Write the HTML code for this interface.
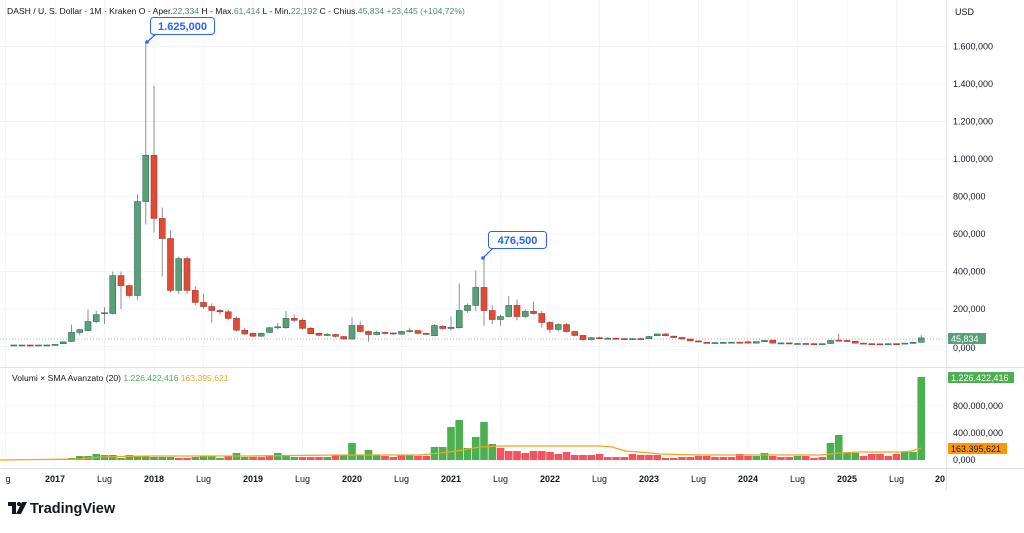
<!DOCTYPE html>
<html><head><meta charset="utf-8"><style>
html,body{margin:0;padding:0;background:#fff;}
body{width:1024px;height:528px;overflow:hidden;font-family:"Liberation Sans",sans-serif;}
svg text{font-family:"Liberation Sans",sans-serif;}
</style></head><body>
<svg id="c" width="1024" height="528" xmlns="http://www.w3.org/2000/svg">
<rect width="1024" height="528" fill="#fff"/>
<g id="grid"></g>
<line x1="0" y1="367.5" x2="1024" y2="367.5" stroke="#e0e3eb"/>
<line x1="0" y1="468.5" x2="1024" y2="468.5" stroke="#e0e3eb"/>
<line x1="946.5" y1="0" x2="946.5" y2="490" stroke="#e0e3eb"/>
<line x1="0" y1="339" x2="946" y2="339" stroke="#9aa0ab" stroke-dasharray="1,2" stroke-width="0.8"/>
<g id="cand"></g>
<g id="vol"></g>
<polyline id="sma" fill="none" stroke="#f7a21b" stroke-width="1.3"/>
<g fill="#131722">
<text x="7" y="14" font-size="8.6">DASH / U. S. Dollar · 1M · Kraken  O - Aper.<tspan fill="#4a8f6a">22,334</tspan>  H - Max.<tspan fill="#4a8f6a">61,414</tspan>  L - Min.<tspan fill="#4a8f6a">22,192</tspan>  C - Chius.<tspan fill="#4a8f6a">45,834</tspan>  <tspan fill="#4a8f6a">+23,445 (+104,72%)</tspan></text>
<text x="12" y="381" font-size="8.6">Volumi × SMA Avanzato (20) <tspan fill="#4caf50">1.226.422,416</tspan> <tspan fill="#f7a21b">163.395,621</tspan></text>
<text x="955" y="15" font-size="9">USD</text>
</g>
<g id="axis" font-size="9" fill="#131722"></g>
<g id="time" font-size="9" fill="#131722"></g>
<line x1="147" y1="42" x2="156" y2="34" stroke="#2962ff" stroke-width="1.2"/>
<circle cx="147" cy="42" r="1.8" fill="#2962ff"/>
<rect x="150.5" y="17.5" width="64" height="17" rx="3" fill="#fff" stroke="#2962ff"/>
<text x="182.5" y="30" font-size="11" font-weight="bold" fill="#2962ff" text-anchor="middle">1.625,000</text>
<line x1="483" y1="258" x2="493" y2="248" stroke="#2962ff" stroke-width="1.2"/>
<circle cx="483" cy="258" r="1.8" fill="#2962ff"/>
<rect x="488.5" y="231.5" width="58" height="17" rx="3" fill="#fff" stroke="#2962ff"/>
<text x="517.5" y="244" font-size="11" font-weight="bold" fill="#2962ff" text-anchor="middle">476,500</text>
<rect x="948" y="333" width="38" height="11" fill="#5a9f7c"/>
<text x="951" y="342" font-size="9" fill="#fff">45,834</text>
<text x="953" y="351" font-size="9" fill="#131722">0,000</text>
<rect x="948" y="372" width="66" height="11" fill="#4caf50"/>
<text x="951" y="381" font-size="9" fill="#fff">1.226.422,416</text>
<rect x="948" y="443" width="59" height="11" fill="#ff9800"/>
<text x="951" y="452" font-size="9" fill="#131722">163.395,621</text>
<text x="953" y="409" font-size="9" fill="#131722">800.000,000</text>
<text x="953" y="436" font-size="9" fill="#131722">400.000,000</text>
<text x="953" y="463" font-size="9" fill="#131722">0,000</text>
<g transform="translate(8,500)">
<path d="M0 2 H8 V14 H4 V6 H0 Z" fill="#131722"/>
<circle cx="11" cy="4" r="2" fill="#131722"/>
<path d="M14 2 H19 L13 14 H8 Z" fill="#131722"/>
<text x="22" y="13" font-size="14.5" font-weight="bold" fill="#131722">TradingView</text>
</g>
</svg>
<script>
var NS="http://www.w3.org/2000/svg";
function el(p,t,a,txt){var e=document.createElementNS(NS,t);for(var k in a)e.setAttribute(k,a[k]);if(txt!==undefined)e.textContent=txt;p.appendChild(e);return e;}
var grid=document.getElementById('grid');
for(var m=-6;m<=108;m+=6){var x=55+8.25*m;if(x>0&&x<946)el(grid,'line',{x1:x,y1:0,x2:x,y2:468,stroke:'#f2f4f8'});}
for(var v=0;v<=1600;v+=200){var y=346.5-v*0.1875;el(grid,'line',{x1:0,y1:y,x2:946,y2:y,stroke:'#f2f4f8'});}
el(grid,'line',{x1:0,y1:406,x2:946,y2:406,stroke:'#f2f4f8'});
el(grid,'line',{x1:0,y1:433,x2:946,y2:433,stroke:'#f2f4f8'});
var ax=document.getElementById('axis');
var pl=['0,000','200,000','400,000','600,000','800,000','1.000,000','1.200,000','1.400,000','1.600,000'];
for(var i=1;i<pl.length;i++){el(ax,'text',{x:953,y:346.5-i*37.5+3},pl[i]);}
var tm=document.getElementById('time');
var tl=[[8,'g',0]];var yrs=['2017','2018','2019','2020','2021','2022','2023','2024','2025'];
for(var i=0;i<9;i++){var x=55+99*i;tl.push([x,yrs[i],1]);tl.push([x+49.5,'Lug',0]);}
tl.push([940,'20',1]);
tl.forEach(function(t){el(tm,'text',{x:t[0],y:482,'text-anchor':'middle','font-weight':t[2]?'bold':'normal'},t[1]);});
var D=[[8,9,7,8],[8,9,7,8],[8,9,7,7],[7,8,7,8],[8,9,7,8],
[8,12,8,11],[15,27,14,25],[27,117,25,75],[75,95,60,90],[85,197,80,133],[133,190,125,170],[175,210,120,180],[176,400,170,378],[378,400,200,325],[325,330,260,272],[272,810,250,773],[773,1625,650,1020],
[1020,1390,608,683],[683,741,373,576],[576,620,290,299],[299,480,280,469],[469,480,280,299],[299,320,220,235],[235,280,200,213],[213,230,128,192],[192,200,170,185],[185,195,140,150],[150,160,80,87],[87,100,60,67],
[70,75,50,55],[55,75,52,70],[75,105,70,100],[100,125,90,105],[100,190,95,150],[150,170,130,140],[140,150,90,97],[97,105,65,68],[70,75,55,60],[62,72,55,64],[64,68,48,54],[53,56,37,40],
[40,155,37,112],[112,135,75,80],[80,85,26,64],[64,85,60,75],[75,80,65,72],[72,75,62,68],[66,85,62,80],[80,100,75,85],[85,88,65,70],[70,75,62,66],[58,120,55,112],[107,115,90,96],
[96,160,85,102],[100,336,96,192],[192,230,180,219],[219,405,190,315],[315,476.5,110,192],[192,220,120,144],[144,170,110,160],[160,270,155,219],[219,250,140,160],[160,200,150,187],[187,240,170,176],[176,190,100,128],
[128,135,70,91],[91,125,80,117],[117,125,75,80],[80,85,55,59],[59,62,30,37],[37,50,33,47],[47,52,40,44],[44,50,40,44],[44,48,38,40],[42,46,38,41],[41,45,37,42],[42,46,39,41],
[42,56,40,53],[58,70,56,67],[67,70,55,58],[55,58,45,48],[48,52,38,40],[40,42,28,30],[30,32,22,24],[22,24,18,20],[20,24,18,21],[21,24,19,22],[22,25,20,23],[23,26,21,22],
[25,30,17,18],[18,27,16,26],[26,34,25,32],[34,36,16,18],[18,22,15,19],[19,22,14,15],[15,18,13,16],[16,18,14,15],[15,17,12,13],[13,16,12,15],[16,35,14,32],[34,69,30,32],
[32,34,24,28],[28,30,17,18],[18,20,14,15],[15,17,12,14],[14,16,12,13],[13,16,12,15],[15,17,12,14],[14,19,13,18],[18,24,16,22],[22.3,61.4,22.2,45.8]];
var V={};
var vh=[[-1,1],[0,1],[1,1],[2,2],[3,4],[4,4],[5,6],[6,5],[7,5],[8,2],[9,5],[10,4],[11,4],[12,3],[13,3],[14,3],[15,2],[16,2],[17,3],[18,4],[19,4],[20,2],[21,4],[22,7],[23,3],[24,3],[25,3],[26,4],[27,7],[28,4],[29,3],[30,3],[31,3],[32,3],[33,3],[34,5],[35,5],[36,17],[37,5],[38,10],[39,5],[40,4],[41,3],[42,5],[43,5],[44,4],[45,4],[46,13],[47,13],[48,33],[49,40],[50,12],[51,23],[52,38],[53,16],[54,12],[55,9],[56,9],[57,7],[58,9],[59,9],[60,8],[61,6],[62,8],[63,5],[64,5],[65,5],[66,6],[67,3],[68,3],[69,3],[70,6],[71,5],[72,5],[73,5],[74,2],[75,2],[76,3],[77,3],[78,4],[79,4],[80,3],[81,3],[82,3],[83,6],[84,4],[85,4],[86,7],[87,4],[88,3],[89,3],[90,4],[91,4],[92,2],[93,3],[94,17],[95,25],[96,7],[97,7],[98,4],[99,6],[100,6],[101,4],[102,6],[103,8],[104,8],[105,83]];
vh.forEach(function(a){V[a[0]]=a[1];});
// red ranges by month index (inclusive)
var RED=[[15,16],[21,21],[24,26],[30,32],[34,34],[40,42],[44,45],[54,84],[87,89],[91,93],[98,102]];
function isRed(m){for(var i=0;i<RED.length;i++)if(m>=RED[i][0]&&m<=RED[i][1])return true;return false;}
var cg=document.getElementById('cand'),vg=document.getElementById('vol');
function Y(v){return 346.5-v*0.1875;}
for(var i=0;i<D.length;i++){var m=i-5;var x=55+8.25*m;var d=D[i];var up=d[3]>=d[0];
var fill=up?'#5a9f7c':'#e04b38',st=up?'#2f6e4f':'#a8352a';
el(cg,'line',{x1:x,y1:Y(d[1]),x2:x,y2:Y(d[2]),stroke:'#8a9099','stroke-width':1});
var t=Y(Math.max(d[0],d[3])),b=Y(Math.min(d[0],d[3]));var h=Math.max(b-t,1);
el(cg,'rect',{x:x-3,y:t,width:6,height:h,fill:fill,stroke:st,'stroke-width':0.6});
if(V[m]!==undefined){var hh=V[m];el(vg,'rect',{x:x-3.8,y:460-hh,width:7.6,height:hh,fill:isRed(m)?'#f7525f':'#4caf50'});}
}
var sp=[[0,460],[80,459],[100,457],[150,456],[250,456],[340,455],[420,455],[450,452],[480,447],[500,446],[600,446],[612,447],[625,451],[640,452],[660,454],[700,455],[820,455],[840,453],[860,452],[900,452],[912,451],[921,448]];
document.getElementById('sma').setAttribute('points',sp.map(function(p){return p[0]+','+p[1];}).join(' '));
</script>
</body></html>
